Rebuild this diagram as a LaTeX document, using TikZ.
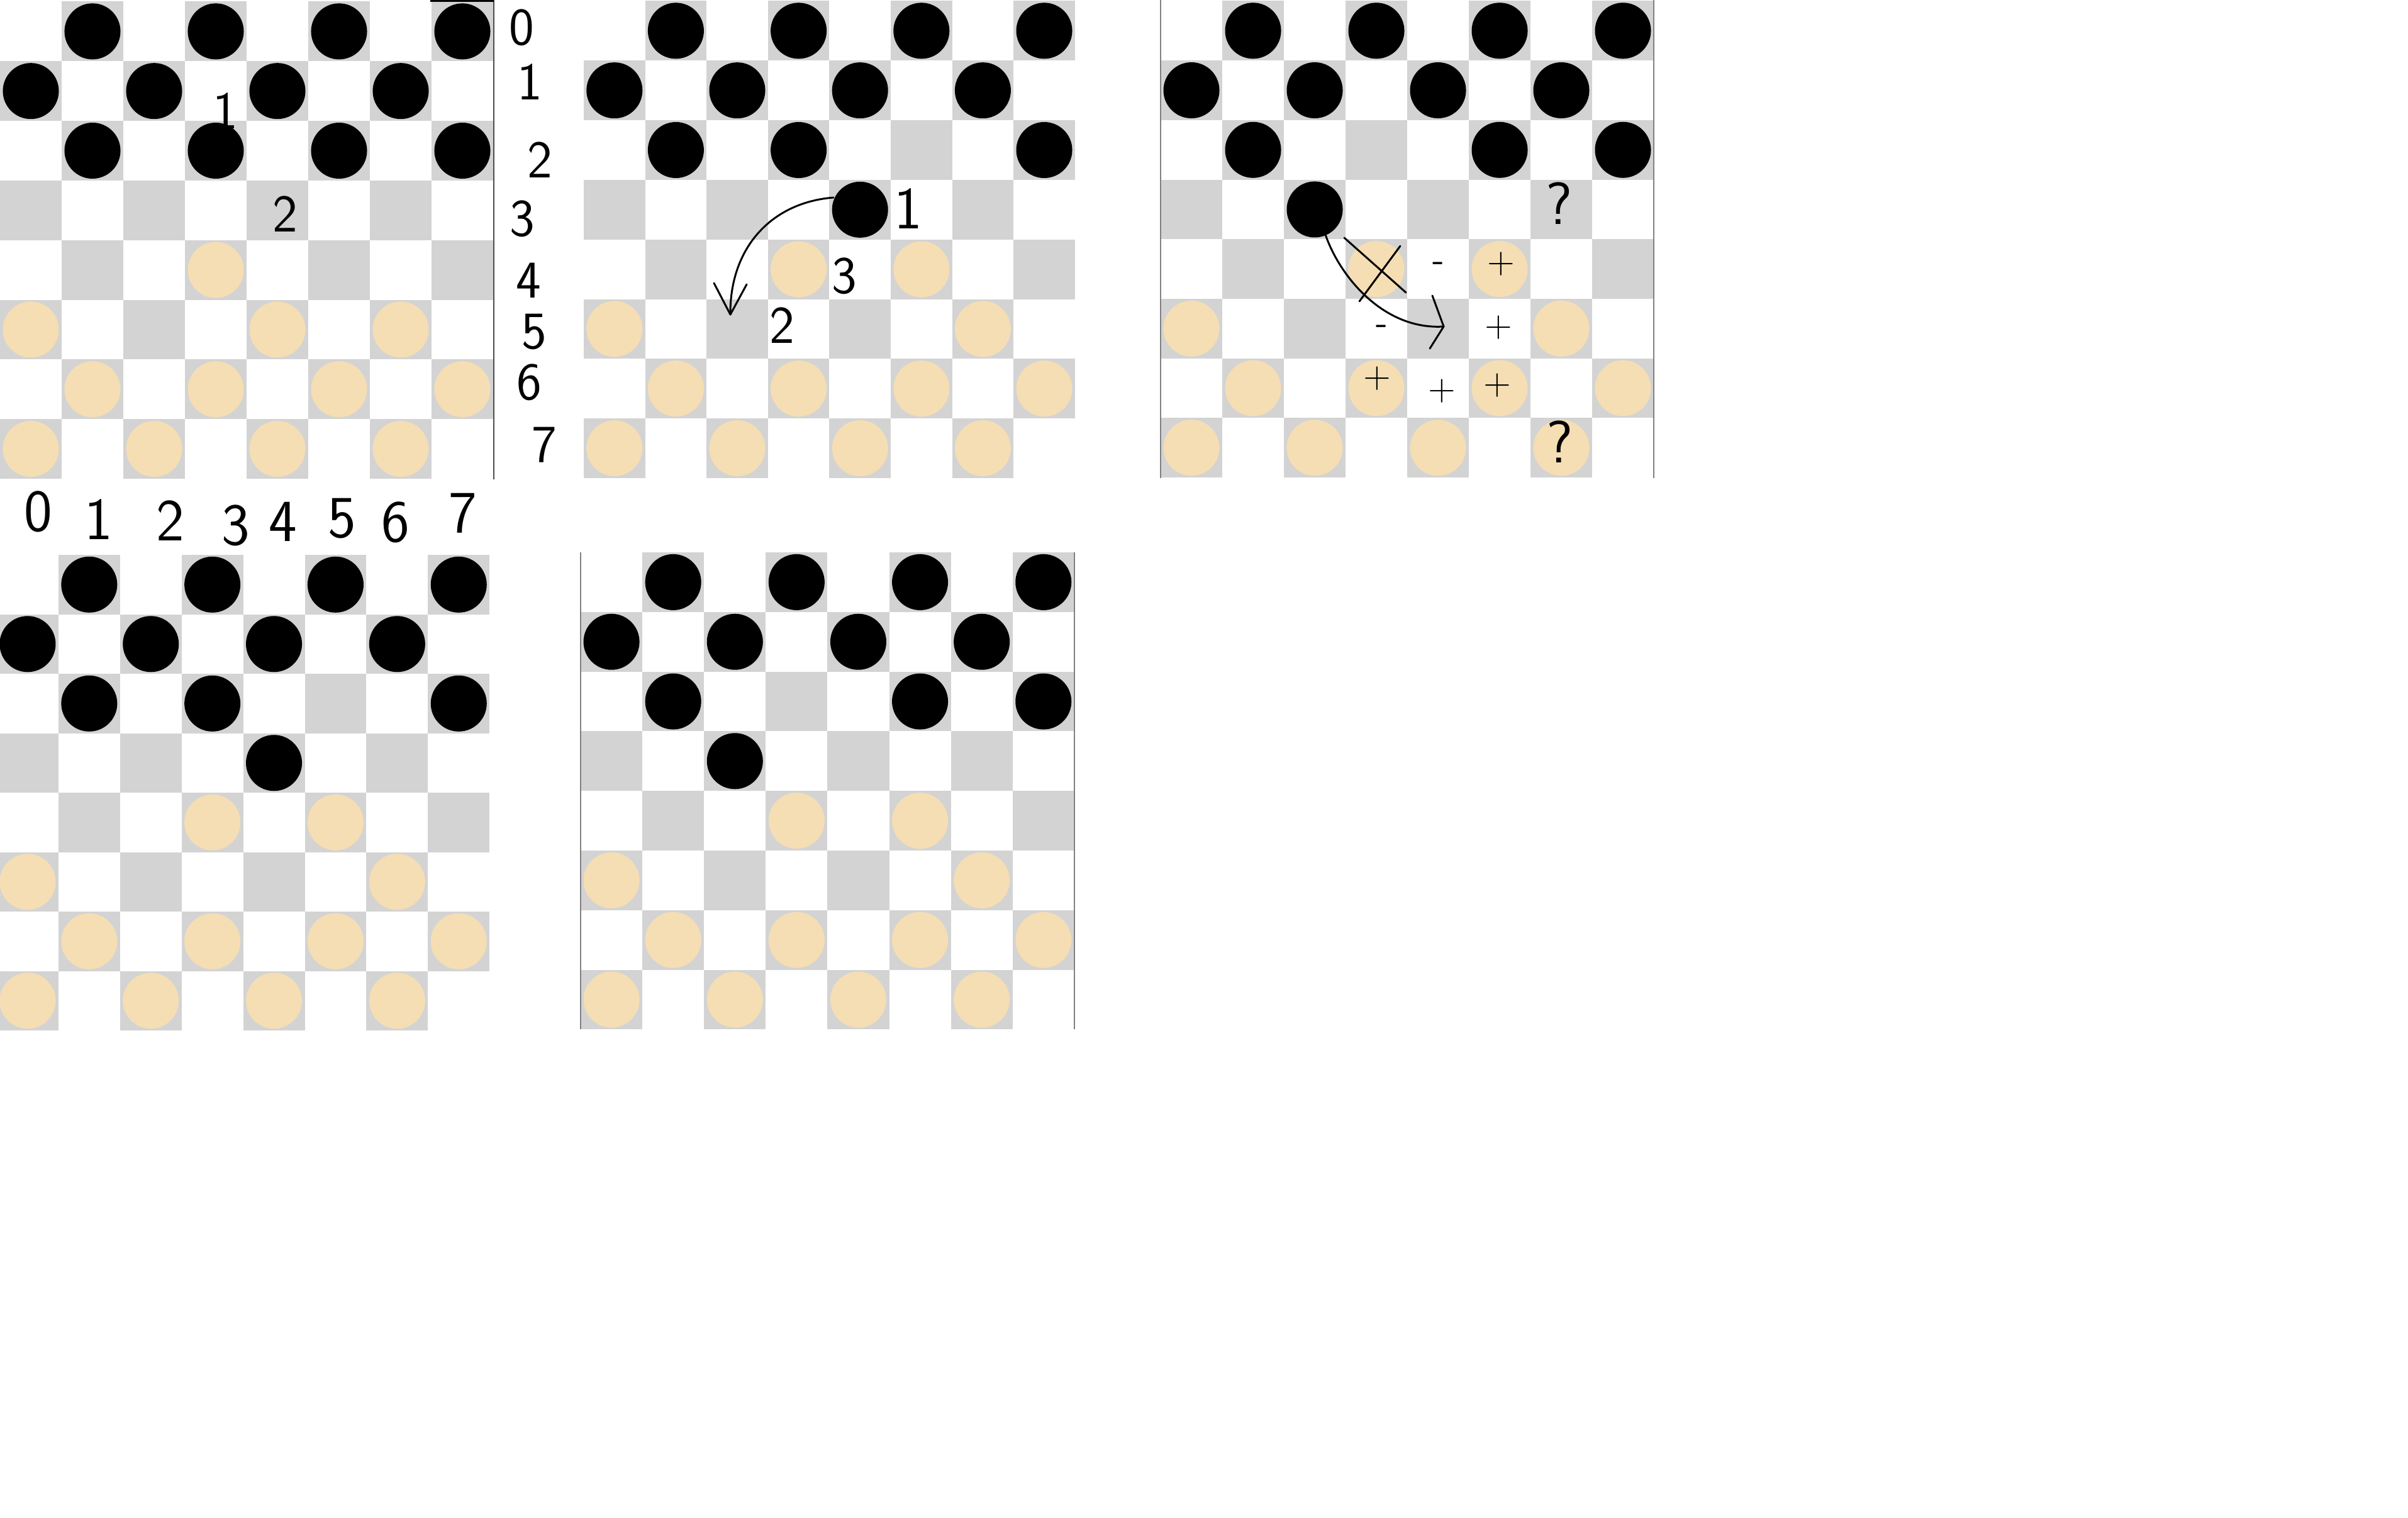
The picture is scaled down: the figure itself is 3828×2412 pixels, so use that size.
\documentclass[tikz,border=0pt]{standalone}
\definecolor{sqgray}{HTML}{D3D3D3}
\definecolor{tanpc}{HTML}{F5DEB3}
\newcommand{\ckboard}[6]{%
  \foreach \ri in {0,...,7}{%
    \foreach \ci in {0,...,7}{%
      \pgfmathtruncatemacro{\pty}{mod(\ri+\ci,2)}%
      \ifnum\pty=1
        \fill[sqgray] ({#1+\ci*#3},{#2+\ri*#4}) rectangle ++(#3,#4);
      \fi
    }%
  }%
  \foreach \ri/\ci in {#5}{\fill[black] ({#1+(\ci+0.5)*#3},{#2+(\ri+0.5)*#4}) circle[radius=0.445cm];}%
  \foreach \ri/\ci in {#6}{\fill[tanpc] ({#1+(\ci+0.5)*#3},{#2+(\ri+0.5)*#4}) circle[radius=0.445cm];}%
}
\tikzset{
  hw/.style={inner sep=0pt, text=black, font=\fontsize{24}{28}\selectfont\sffamily},
  hwbig/.style={hw, font=\fontsize{27}{32}\selectfont\sffamily},
  hwsmall/.style={hw, font=\fontsize{17}{20}\selectfont\sffamily},
  hand/.style={line width=0.85pt, line cap=round, line join=round},
  edgeline/.style={line width=0.4pt, gray},
}
\begin{document}
\begin{tikzpicture}[x=0.01cm,y=-0.01cm]
\useasboundingbox (0,0) rectangle (3828,2412);
\fill[white] (0,0) rectangle (3828,2412);
\begin{scope}
\clip (0,0) rectangle (3828,2412);
% Board 1
\ckboard{0}{2.5}{98}{94.8}{0/1,0/3,0/5,0/7,1/0,1/2,1/4,1/6,2/1,2/3,2/5,2/7}{4/3,5/0,5/4,5/6,6/1,6/3,6/5,6/7,7/0,7/2,7/4,7/6}
% Board 2
\ckboard{928}{1.5}{97.6}{94.8}{0/1,0/3,0/5,0/7,1/0,1/2,1/4,1/6,2/1,2/3,2/7,3/4}{4/3,4/5,5/0,5/6,6/1,6/3,6/5,6/7,7/0,7/2,7/4,7/6}
% Board 3
\ckboard{1845}{1.5}{98}{94.7}{0/1,0/3,0/5,0/7,1/0,1/2,1/4,1/6,2/1,2/5,2/7,3/2}{4/3,4/5,5/0,5/6,6/1,6/3,6/5,6/7,7/0,7/2,7/4,7/6}
% Board 4
\ckboard{-5}{882}{97.9}{94.5}{0/1,0/3,0/5,0/7,1/0,1/2,1/4,1/6,2/1,2/3,2/7,3/4}{4/3,4/5,5/0,5/6,6/1,6/3,6/5,6/7,7/0,7/2,7/4,7/6}
% Board 5
\ckboard{923}{878}{98.1}{94.8}{0/1,0/3,0/5,0/7,1/0,1/2,1/4,1/6,2/1,2/5,2/7,3/2}{4/3,4/5,5/0,5/6,6/1,6/3,6/5,6/7,7/0,7/2,7/4,7/6}
\end{scope}
% edge lines
\draw[line width=0.5pt, gray!60!black] (785,0) -- (785,762);
\draw[line width=1pt, black] (684,1.4) -- (785,1.4);
\draw[edgeline] (1845,0) -- (1845,760);
\draw[edgeline] (2629,0) -- (2629,760);
\draw[edgeline] (923,878) -- (923,1636);
\draw[edgeline] (1708,878) -- (1708,1636);
% Board 1 annotations
\node[hw] (b1one) at (358,176) {1};
\node[hw] (b1two) at (453,340) {2};
% Board 2 row labels
\node[hw] (r0) at (829,44) {0};
\node[hw] (r1) at (842,130) {1};
\node[hw] (r2) at (858,254) {2};
\node[hw] (r3) at (830,348) {3};
\node[hw] (r4) at (840,446) {4};
\node[hw] (r5) at (849,527) {5};
\node[hw] (r6) at (841,608) {6};
\node[hw] (r7) at (865,707) {7};
% Column labels
\node[hwbig] (c0) at (61,813) {0};
\node[hwbig] (c1) at (157,826) {1};
\node[hwbig] (c2) at (271,828) {2};
\node[hwbig] (c3) at (375,835) {3};
\node[hwbig] (c4) at (450,829) {4};
\node[hwbig] (c5) at (544,824) {5};
\node[hwbig] (c6) at (629,830) {6};
\node[hwbig] (c7) at (736,816) {7};
% Board 2 annotations
\node[hwbig] (b2one) at (1444,332) {1};
\node[hw] (b2three) at (1342,439) {3};
\node[hw] (b2two) at (1243,517) {2};
\coordinate (a1s) at (1325,314);
\coordinate (a1e) at (1161,500);
\coordinate (a1l) at (1135,450);
\coordinate (a1r) at (1187,452);
\draw[hand] (a1s) .. controls (1225,322) and (1160,395) .. (a1e);
\draw[hand] (a1l) -- (a1e) -- (a1r);
% Board 3 annotations
\node[hwbig] (q1) at (2479,323) {?};
\node[hwbig] (q2) at (2480,702) {?};
\node[hwsmall] (m1) at (2287,424) {-};
\node[hwsmall] (p1) at (2386,420) {+};
\node[hwsmall] (m2) at (2197,524) {-};
\node[hwsmall] (p2) at (2382,521) {+};
\node[hwsmall] (p3) at (2189,602) {+};
\node[hwsmall] (p4) at (2292,622) {+};
\node[hwsmall] (p5) at (2380,613) {+};
\coordinate (xa) at (2137,378);
\coordinate (xb) at (2235,465);
\coordinate (xc) at (2226,391);
\coordinate (xd) at (2161,479);
\draw[hand] (xa) -- (xb);
\draw[hand] (xc) -- (xd);
\coordinate (a2s) at (2107,373);
\coordinate (a2e) at (2295,519);
\coordinate (a2l) at (2277,470);
\coordinate (a2r) at (2273,554);
\draw[hand] (a2s) .. controls (2130,440) and (2200,525) .. (a2e);
\draw[hand] (a2l) -- (a2e) -- (a2r);
\end{tikzpicture}
\end{document}
